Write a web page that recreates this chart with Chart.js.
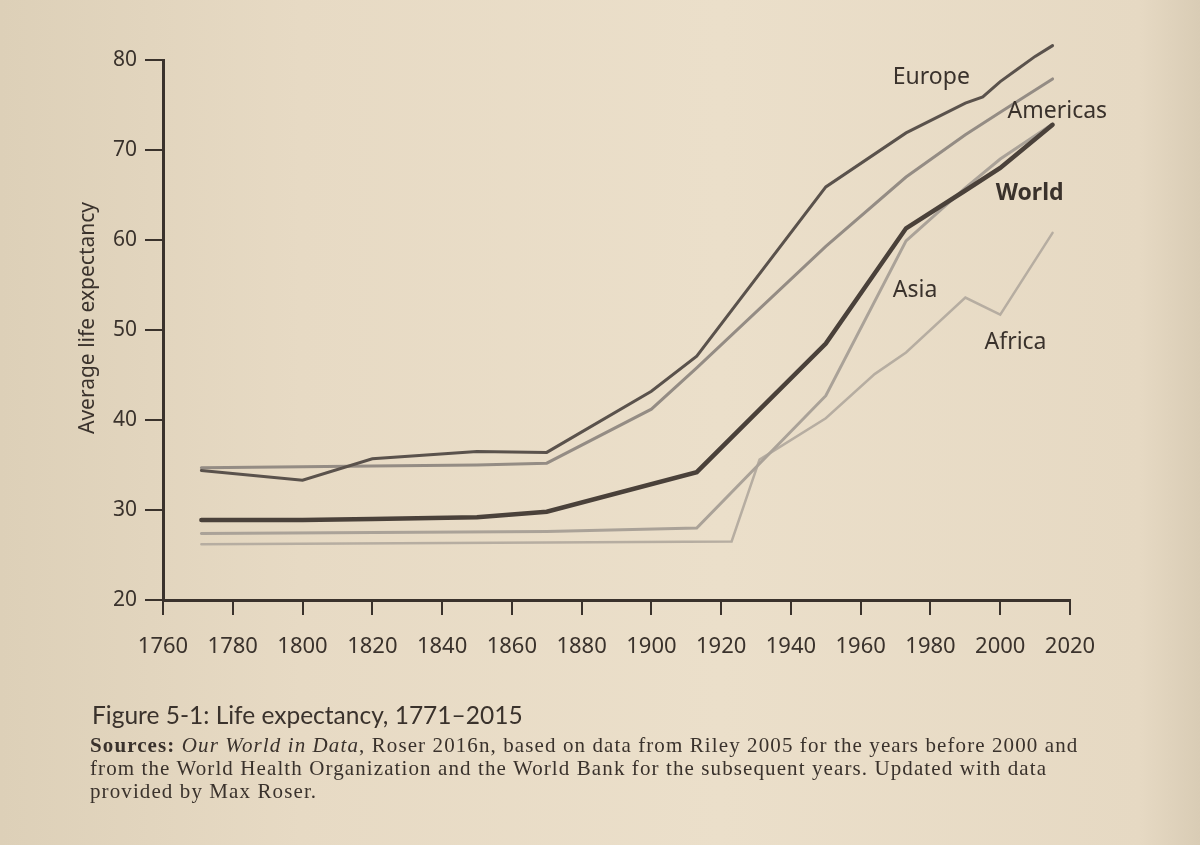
<!DOCTYPE html>
<html>
<head>
<meta charset="utf-8">
<script src="https://cdn.jsdelivr.net/npm/chart.js@4.4.1/dist/chart.umd.min.js"></script>
<style>
    html, body { margin: 0; padding: 0; }
    body {
        width: 1200px; height: 845px; overflow: hidden; position: relative;
        background: linear-gradient(90deg, #ddd0b8 0%, #e7dac4 25%, #ebdfca 60%, #e6d9c3 95%, #d9ccb5 100%);
    }
    #chart { position: absolute; left: 0; top: 0; }
    .caption {
        position: absolute; left: 92px; top: 700px;
        font-family: 'Lato', sans-serif; font-size: 24.5px; color: #3a322c;
    }
    .sources {
        position: absolute; left: 90px; top: 734px; width: 1060px;
        font-family: 'Liberation Serif', serif; font-size: 21px; line-height: 23px;
        color: #3a322c; letter-spacing: 1.1px; white-space: nowrap;
    }
</style>
</head>
<body>
<canvas id="chart" width="1200" height="845"></canvas>
<div class="caption">Figure 5-1: Life expectancy, 1771–2015</div>
<div class="sources">
    <b>Sources:</b> <i>Our World in Data</i>, Roser 2016n, based on data from Riley 2005 for the years before 2000 and<br>
    from the World Health Organization and the World Bank for the subsequent years. Updated with data<br>
    provided by Max Roser.
</div>
<script>
// ============================================
// Life expectancy 1771-2015
// ============================================

const worldYears = [1771, 1800, 1820, 1850, 1870, 1913, 1950, 1973, 1990, 2000, 2015];
const worldValues = [28.9, 28.9, 29.0, 29.2, 29.8, 34.2, 48.5, 61.3, 65.5, 68.0, 72.8];

const europeYears = [1771, 1800, 1820, 1850, 1870, 1900, 1913, 1950, 1973, 1990, 1995, 2000, 2005, 2010, 2015];
const europeValues = [34.4, 33.3, 35.7, 36.5, 36.4, 43.2, 47.1, 65.9, 71.9, 75.2, 75.9, 77.6, 79.0, 80.4, 81.6];

const americasYears = [1771, 1800, 1820, 1850, 1870, 1900, 1913, 1950, 1973, 1990, 2000, 2015];
const americasValues = [34.7, 34.8, 34.9, 35.0, 35.2, 41.2, 45.8, 59.3, 67.0, 71.7, 74.2, 77.9];

const asiaYears = [1771, 1870, 1913, 1950, 1973, 1990, 2000, 2015];
const asiaValues = [27.4, 27.6, 28.0, 42.7, 59.9, 65.8, 69.0, 72.9];

const africaYears = [1771, 1870, 1923, 1931, 1950, 1964, 1973, 1990, 2000, 2015];
const africaValues = [26.2, 26.4, 26.5, 35.6, 40.2, 45.1, 47.5, 53.6, 51.7, 60.8];

const xTicks = [1760, 1780, 1800, 1820, 1840, 1860, 1880, 1900, 1920, 1940, 1960, 1980, 2000, 2020];
const yTicks = [20, 30, 40, 50, 60, 70, 80];

// series labels, anchored in data coordinates (left edge, middle)
const seriesLabels = [
    { text: 'Europe', year: 1969.2, value: 78.1, bold: false },
    { text: 'Americas', year: 2002.1, value: 74.3, bold: false },
    { text: 'World', year: 1998.7, value: 65.2, bold: true },
    { text: 'Asia', year: 1969.2, value: 54.4, bold: false },
    { text: 'Africa', year: 1995.5, value: 48.6, bold: false }
];

const ink = '#3a322c';

function toPoints(years, values) {
    return years.map((y, i) => ({ x: y, y: values[i] }));
}

const labelPlugin = {
    id: 'seriesLabels',
    afterDatasetsDraw(chart) {
        const { ctx, scales, chartArea } = chart;
        ctx.save();
        ctx.fillStyle = ink;
        ctx.textBaseline = 'middle';
        ctx.textAlign = 'left';
        seriesLabels.forEach(l => {
            ctx.font = (l.bold ? 'bold ' : '') + "23px 'Noto Sans', sans-serif";
            ctx.fillText(l.text, scales.x.getPixelForValue(l.year), scales.y.getPixelForValue(l.value));
        });
        // y axis title
        ctx.translate(chartArea.left - 75, (chartArea.top + chartArea.bottom) / 2 - 12);
        ctx.rotate(-Math.PI / 2);
        ctx.textAlign = 'center';
        ctx.font = "21px 'Noto Sans', sans-serif";
        ctx.fillText('Average life expectancy', 0, 0);
        ctx.restore();
    }
};

const lineStyle = (color, width) => ({
    borderColor: color,
    borderWidth: width,
    pointRadius: 0,
    tension: 0,
    fill: false,
    clip: false,
    borderCapStyle: 'round',
    borderJoinStyle: 'miter'
});

new Chart(document.getElementById('chart'), {
    type: 'line',
    data: {
        datasets: [
            { label: 'World', data: toPoints(worldYears, worldValues), ...lineStyle('#4a413a', 4.5) },
            { label: 'Europe', data: toPoints(europeYears, europeValues), ...lineStyle('#5a524c', 3) },
            { label: 'Americas', data: toPoints(americasYears, americasValues), ...lineStyle('#948c84', 3) },
            { label: 'Asia', data: toPoints(asiaYears, asiaValues), ...lineStyle('#aaa298', 3) },
            { label: 'Africa', data: toPoints(africaYears, africaValues), ...lineStyle('#b6ada1', 2.5) }
        ]
    },
    options: {
        responsive: false,
        animation: false,
        layout: { padding: { top: 60, right: 130, bottom: 0, left: 0 } },
        plugins: { legend: { display: false }, tooltip: { enabled: false } },
        scales: {
            x: {
                type: 'linear',
                min: 1760,
                max: 2020,
                afterBuildTicks: s => { s.ticks = xTicks.map(v => ({ value: v })); },
                afterFit: s => { s.height = 245; },
                border: { display: true, color: ink, width: 3 },
                grid: { drawOnChartArea: false, drawTicks: true, tickLength: 15, color: ink, lineWidth: 2 },
                ticks: {
                    color: ink,
                    padding: 19,
                    maxRotation: 0,
                    font: { family: "'Noto Sans', sans-serif", size: 22 },
                    callback: v => String(v)
                }
            },
            y: {
                min: 20,
                max: 80,
                afterBuildTicks: s => { s.ticks = yTicks.map(v => ({ value: v })); },
                afterFit: s => { s.width = 163; },
                border: { display: true, color: ink, width: 3 },
                grid: { drawOnChartArea: false, drawTicks: true, tickLength: 18, color: ink, lineWidth: 2 },
                ticks: {
                    color: ink,
                    padding: 8,
                    font: { family: "'Noto Sans', sans-serif", size: 21 },
                    callback: v => String(v)
                }
            }
        }
    },
    plugins: [labelPlugin]
});
</script>
</body>
</html>
